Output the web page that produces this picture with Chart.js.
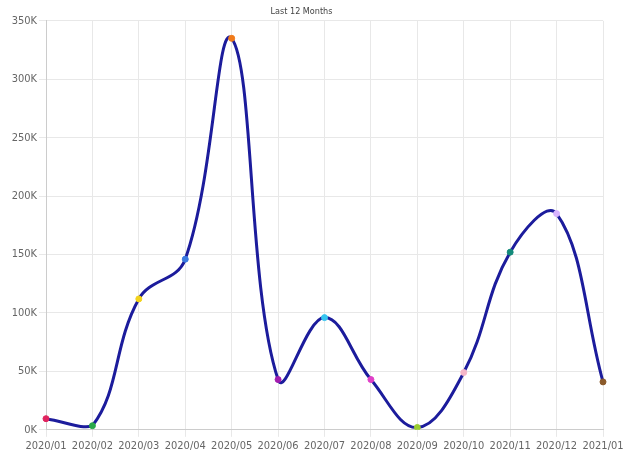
<!DOCTYPE html>
<html><head><meta charset="utf-8">
<script src="https://cdn.jsdelivr.net/npm/chart.js@4"></script>
<style>html,body{margin:0;padding:0;background:#fff;}#wrap{width:627px;height:459px;}</style>
</head><body><div id="wrap"><canvas id="c" width="627" height="459"></canvas></div>
<script>
const categories = ['2020/01','2020/02','2020/03','2020/04','2020/05','2020/06','2020/07','2020/08','2020/09','2020/10','2020/11','2020/12','2021/01'];
const values = [9500, 3500, 112000, 146000, 335000, 43000, 96000, 43000, 2000, 49000, 152000, 185000, 41000];
const pointColors = ['#e0245e','#2aa84a','#f2d21b','#3a7ae0','#f07a1a','#a21caf','#36c5f0','#e040c8','#9acd32','#f4b6c8','#138a7a','#d8b4fe','#8b5a2b'];
const yTicks = [0, 50000, 100000, 150000, 200000, 250000, 300000, 350000];
const FONT = "'DejaVu Sans Condensed', 'Liberation Sans Narrow', 'Liberation Sans'";

new Chart(document.getElementById('c'), {
  type: 'line',
  data: { labels: categories, datasets: [{
    data: values,
    borderColor: '#1c1c9c',
    borderWidth: 3,
    tension: 0.4,
    fill: false,
    pointRadius: 3,
    pointBorderWidth: 1,
    pointBackgroundColor: pointColors,
    pointBorderColor: pointColors
  }]},
  options: {
    responsive: false,
    animation: false,
    devicePixelRatio: 1,
    layout: { padding: { left: 0, right: 24, top: 0, bottom: 3 } },
    plugins: {
      legend: { display: false },
      tooltip: { enabled: false },
      title: { display: true, text: 'Last 12 Months', color: '#444',
        font: { family: FONT, size: 9, weight: 'normal' }, padding: { top: 6, bottom: 4 } }
    },
    scales: {
      x: {
        grid: { color: '#e8e8e8', drawTicks: true, tickLength: 7 },
        border: { color: '#cccccc' },
        ticks: { color: '#666', maxRotation: 0, autoSkip: false,
          font: { family: FONT, size: 11 } }
      },
      y: {
        min: 0, max: 350000,
        afterBuildTicks: (axis) => { axis.ticks = yTicks.map(v => ({ value: v })); },
        afterFit: (axis) => { axis.width = 46; },
        grid: { color: '#e8e8e8', tickLength: 7 },
        border: { color: '#cccccc' },
        ticks: { color: '#666', padding: 2,
          font: { family: FONT, size: 11 },
          callback: (v) => (v / 1000) + 'K' }
      }
    }
  }
});
</script></body></html>
